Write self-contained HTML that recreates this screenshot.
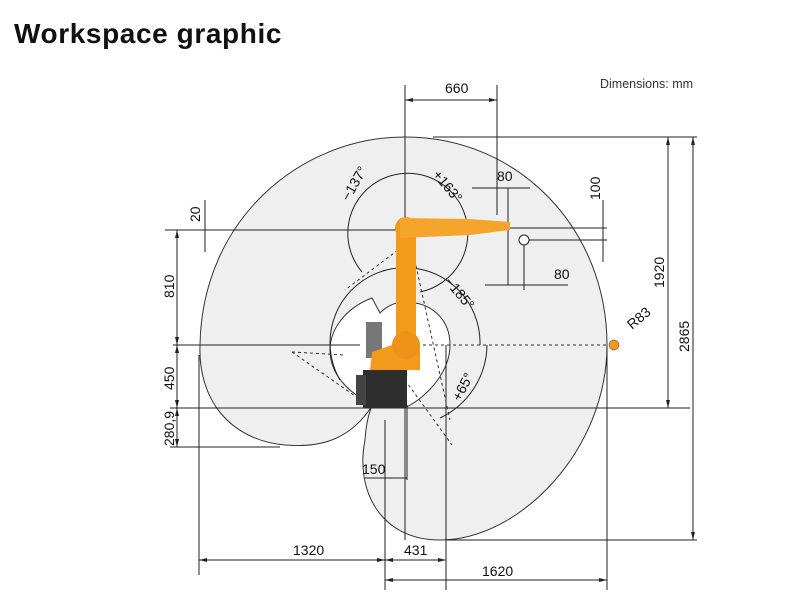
<!DOCTYPE html>
<html><head><meta charset="utf-8"><style>
html,body{margin:0;padding:0;background:#fff;width:790px;height:611px;overflow:hidden}
svg{display:block;font-family:"Liberation Sans",sans-serif}
</style></head><body>
<svg width="790" height="611" viewBox="0 0 790 611" xmlns="http://www.w3.org/2000/svg">
<text x="14" y="43" font-size="28" font-weight="bold" fill="#111" letter-spacing="0.6">Workspace  graphic</text>
<text x="600" y="88" font-size="12.5" fill="#333">Dimensions: mm</text>

<path d="M372,406 C350,440 320,448 285,445 C230,440 198,400 200,345 C202,220 300,137 405,137 C520,137 607,230 607,345 C607,450 520,540 440,540 C380,540 355,490 365,440 C366,425 368,415 372,406 Z" fill="#efefef" stroke="#333" stroke-width="1"/>
<path d="M380,313 L372,298 C345,308 330,330 330,350 C330,375 350,395 375,405 L405,408 C430,395 450,370 450,345 C450,318 430,302 405,302 C395,302 387,306 380,313 Z" fill="#fff" stroke="#333" stroke-width="1"/>

<g stroke="#222" stroke-width="1" fill="none">
<line x1="405" y1="85" x2="405" y2="540"/>
<line x1="165" y1="230" x2="500" y2="230"/>
<line x1="490" y1="228" x2="607" y2="228"/>
<line x1="173" y1="345" x2="360" y2="345"/>
<line x1="170" y1="408" x2="690" y2="408"/>
<line x1="170" y1="447" x2="280" y2="447"/>
<line x1="433" y1="137" x2="697" y2="137"/>
<line x1="445" y1="540" x2="697" y2="540"/>
<line x1="177" y1="230" x2="177" y2="447"/>
<line x1="205" y1="200" x2="205" y2="252"/>
<line x1="199" y1="355" x2="199" y2="575"/>
<line x1="668" y1="137" x2="668" y2="408"/>
<line x1="693" y1="137" x2="693" y2="540"/>
<line x1="603" y1="200" x2="603" y2="262"/>
<line x1="525" y1="240" x2="607" y2="240"/>
<line x1="497" y1="85" x2="497" y2="215"/>
<line x1="405" y1="100" x2="497" y2="100"/>
<line x1="472" y1="188" x2="530" y2="188"/>
<line x1="508" y1="188" x2="508" y2="285"/>
<line x1="524" y1="240" x2="524" y2="290"/>
<line x1="485" y1="285" x2="568" y2="285"/>
<line x1="385" y1="420" x2="385" y2="590"/>
<line x1="446" y1="345" x2="446" y2="590"/>
<line x1="607" y1="345" x2="607" y2="590"/>
<line x1="407" y1="405" x2="407" y2="480"/>
<line x1="365" y1="478" x2="407" y2="478"/>
<line x1="199" y1="560" x2="446" y2="560"/>
<line x1="385" y1="580" x2="607" y2="580"/>
<path d="M362,272 A60,60 0 1,1 420,292"/>
<path d="M340,380 A75,75 0 1,1 480,345"/>
<path d="M487,345 A82,82 0 0,1 440,418"/>
</g>
<g stroke="#333" stroke-width="1" stroke-dasharray="3,3" fill="none">
<line x1="398" y1="250" x2="345" y2="290"/>
<line x1="412" y1="248" x2="450" y2="420"/>
<line x1="405" y1="345" x2="615" y2="345"/>
<line x1="292" y1="352" x2="368" y2="405"/>
<line x1="292" y1="352" x2="345" y2="355"/>
<line x1="405" y1="380" x2="452" y2="445"/>
</g>
<g fill="#222">
<polygon points="177,230 175,238 179,238"/><polygon points="177,345 175,337 179,337"/>
<polygon points="177,345 175,353 179,353"/><polygon points="177,408 175,400 179,400"/>
<polygon points="177,408 175,416 179,416"/><polygon points="177,447 175,439 179,439"/>
<polygon points="668,137 666,145 670,145"/><polygon points="668,408 666,400 670,400"/>
<polygon points="693,137 691,145 695,145"/><polygon points="693,540 691,532 695,532"/>
<polygon points="199,560 207,558 207,562"/><polygon points="385,560 377,558 377,562"/>
<polygon points="385,560 393,558 393,562"/><polygon points="446,560 438,558 438,562"/>
<polygon points="385,580 393,578 393,582"/><polygon points="607,580 599,578 599,582"/>
<polygon points="405,100 413,98 413,102"/><polygon points="497,100 489,98 489,102"/>
</g>

<g>
<rect x="363" y="370" width="44" height="38" fill="#2e2e2e"/>
<rect x="356" y="375" width="10" height="30" fill="#444"/>
<rect x="366" y="322" width="16" height="36" fill="#777"/>
<path d="M370,370 L372,352 L392,345 L420,345 L420,370 Z" fill="#f39a1d"/>
<rect x="396" y="232" width="20" height="115" fill="#f39a1d"/>
<circle cx="406" cy="345" r="14" fill="#ef9219"/>
<circle cx="406" cy="228" r="11" fill="#f39a1d"/>
<path d="M400,218 L470,219 L510,222 L510,230 L470,235 L400,238 Z" fill="#f6a52c"/>
<circle cx="524" cy="240" r="5" fill="#fff" stroke="#222"/>
<circle cx="614" cy="345" r="5" fill="#f39a1d" stroke="#333" stroke-width="0.5"/>
</g>

<g font-size="14" fill="#111">
<text x="445" y="93">660</text>
<text x="497" y="181">80</text>
<text x="554" y="279">80</text>
<text x="293" y="555">1320</text>
<text x="404" y="555">431</text>
<text x="482" y="576">1620</text>
<text x="362" y="474">150</text>
<text transform="translate(200,222) rotate(-90)">20</text>
<text transform="translate(174,298) rotate(-90)">810</text>
<text transform="translate(174,390) rotate(-90)">450</text>
<text transform="translate(174,446) rotate(-90)">280,9</text>
<text transform="translate(600,200) rotate(-90)">100</text>
<text transform="translate(664,288) rotate(-90)">1920</text>
<text transform="translate(689,352) rotate(-90)">2865</text>
<text transform="translate(349,202) rotate(-60)">−137°</text>
<text transform="translate(432,175) rotate(50)">+163°</text>
<text transform="translate(444,282) rotate(50)">−185°</text>
<text transform="translate(460,402) rotate(-62)">+65°</text>
<text transform="translate(632,330) rotate(-40)">R83</text>
</g>
</svg>
</body></html>
